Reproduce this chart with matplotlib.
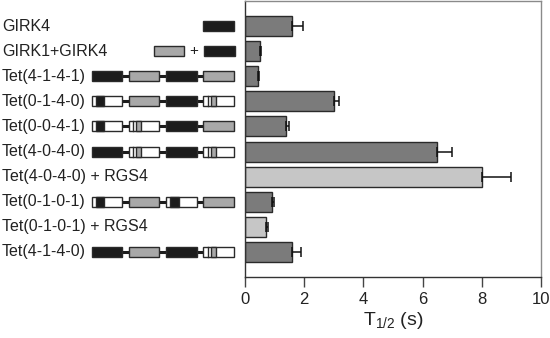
import matplotlib
matplotlib.use("Agg")
import matplotlib.pyplot as plt
from matplotlib.patches import Rectangle
from matplotlib import transforms

plt.rcParams['font.family'] = ['Liberation Sans', 'DejaVu Sans']
plt.rcParams['mathtext.default'] = 'regular'

labels = ["GIRK4", "GIRK1+GIRK4", "Tet(4-1-4-1)", "Tet(0-1-4-0)", "Tet(0-0-4-1)",
          "Tet(4-0-4-0)", "Tet(4-0-4-0) + RGS4", "Tet(0-1-0-1)",
          "Tet(0-1-0-1) + RGS4", "Tet(4-1-4-0)"]
values = [1.6, 0.5, 0.43, 3.0, 1.4, 6.5, 8.0, 0.9, 0.7, 1.6]
errors = [0.35, 0.04, 0.03, 0.18, 0.1, 0.5, 1.0, 0.08, 0.08, 0.29]
rgs4 = [False, False, False, False, False, False, True, False, True, False]
constructs = ["G4", "G1+G4", "4141", "0140", "0041", "4040", None, "0101", None, "4140"]
xticks = [0, 2, 4, 6, 8, 10]

DARK = "#7b7b7b"
LIGHT = "#c6c6c6"
BLACK = "#1c1c1c"
GRAY = "#a8a8a8"
EDGE = "#2a2a2a"

W, H = 550, 338
fig = plt.figure(figsize=(W / 100, H / 100), dpi=100)
ax = fig.add_axes([245 / W, 1 - 277 / H, (541 - 245) / W, (277 - 1) / H])

ypos = list(range(len(labels)))
colors = [LIGHT if r else DARK for r in rgs4]
ax.barh(ypos, values, height=0.8, color=colors, edgecolor=EDGE, linewidth=1, zorder=2)
ax.errorbar(values, ypos, xerr=[[0] * len(errors), errors], fmt='none',
            ecolor="#111111", elinewidth=1.1, capsize=3.5, capthick=1.1, zorder=3)

ax.set_xlim(0, 10)
ax.set_ylim(10, -1)
ax.set_yticks([])
ax.set_xticks(xticks)
ax.set_xticklabels([str(t) for t in xticks], fontsize=12, color="#222222")
ax.tick_params(axis='x', direction='out', length=7, width=1, color="#444444", pad=4)
ax.set_xlabel("T$_{1/2}$ (s)", fontsize=14, color="#222222", labelpad=2)
for s in ['left', 'bottom']:
    ax.spines[s].set_color("#333333")
    ax.spines[s].set_linewidth(1)
for s in ['right', 'top']:
    ax.spines[s].set_color("#8a8a8a")
    ax.spines[s].set_linewidth(1)

# row labels and construct diagrams
tr = transforms.blended_transform_factory(fig.transFigure, ax.transData)
for i, lab in enumerate(labels):
    ax.text(2 / W, i, lab, transform=tr, fontsize=11.5, color="#222222",
            ha='left', va='center', clip_on=False)

bh = 0.4
bw = 30.5 / W
starts = [(91.5 + k * 37.3) / W for k in range(4)]


def box(x0, y, fill):
    ax.add_patch(Rectangle((x0, y - bh / 2), bw, bh, transform=tr, facecolor=fill,
                           edgecolor=EDGE, linewidth=1, clip_on=False, zorder=4))


def chimera(x0, y, pos):
    box(x0, y, "white")
    if pos % 2 == 0:
        ax.add_patch(Rectangle((x0 + 0.14 * bw, y - bh / 2), 0.27 * bw, bh, transform=tr,
                               facecolor=BLACK, edgecolor=EDGE, linewidth=1,
                               clip_on=False, zorder=5))
    else:
        ax.plot([x0 + 0.15 * bw] * 2, [y - bh / 2, y + bh / 2], transform=tr,
                color=EDGE, lw=1, clip_on=False, zorder=5)
        ax.add_patch(Rectangle((x0 + 0.24 * bw, y - bh / 2), 0.17 * bw, bh, transform=tr,
                               facecolor=GRAY, edgecolor=EDGE, linewidth=1,
                               clip_on=False, zorder=5))


for i, c in enumerate(constructs):
    if c is None:
        continue
    if c == "G4":
        box(203 / W, i, BLACK)
        continue
    if c == "G1+G4":
        box(153.5 / W, i, GRAY)
        ax.text(194 / W, i, "+", transform=tr, fontsize=11, ha='center', va='center',
                color="#222222", clip_on=False)
        box(204 / W, i, BLACK)
        continue
    for k in range(3):
        ax.plot([starts[k] + bw, starts[k + 1]], [i, i], transform=tr, color=BLACK,
                lw=2.2, clip_on=False, zorder=3, solid_capstyle='butt')
    for k, ch in enumerate(c):
        if ch == '4':
            box(starts[k], i, BLACK)
        elif ch == '1':
            box(starts[k], i, GRAY)
        else:
            chimera(starts[k], i, k)

fig.savefig("out.png", dpi=100)
